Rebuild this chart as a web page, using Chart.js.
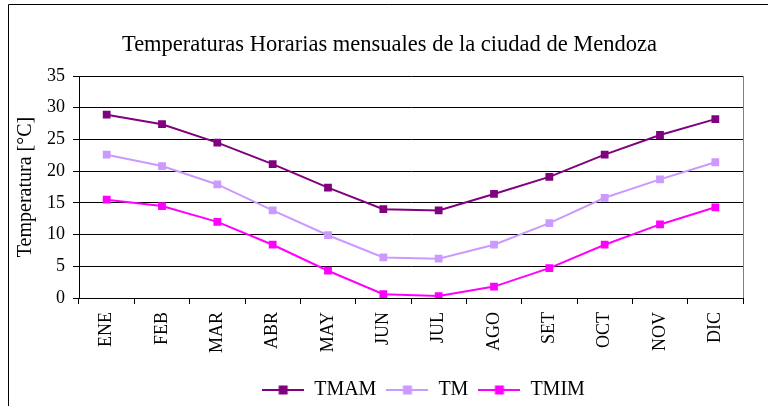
<!DOCTYPE html>
<html>
<head>
<meta charset="utf-8">
<script src="https://cdn.jsdelivr.net/npm/chart.js@4/dist/chart.umd.min.js"></script>
<style>
  html, body { margin: 0; padding: 0; background: #fff; overflow: hidden; }
  #wrap { width: 768px; height: 406px; position: relative; }
</style>
</head>
<body>
<div id="wrap"><canvas id="chart" width="768" height="406"></canvas></div>
<script>
// months (Spanish abbreviations)
const meses = ['ENE', 'FEB', 'MAR', 'ABR', 'MAY', 'JUN', 'JUL', 'AGO', 'SET', 'OCT', 'NOV', 'DIC'];

// temperatures [°C]
const tmam = [28.9, 27.4, 24.5, 21.1, 17.4, 14.0, 13.8, 16.4, 19.1, 22.6, 25.7, 28.2];
const tm   = [22.6, 20.8, 17.9, 13.8, 9.9, 6.4, 6.2, 8.4, 11.8, 15.8, 18.7, 21.4];
const tmim = [15.5, 14.5, 12.0, 8.4, 4.3, 0.6, 0.3, 1.8, 4.7, 8.4, 11.6, 14.3];

const serieNames = ['TMAM', 'TM', 'TMIM'];
const serieColors = ['#800080', '#CC99FF', '#FF00FF'];

const FONT = '"Liberation Serif", "Times New Roman", serif';

// little "line with square" icon for the legend
function legendIcon(color) {
    let c = document.createElement('canvas');
    c.width = 42;
    c.height = 12;
    let ctx = c.getContext('2d');
    ctx.strokeStyle = color;
    ctx.lineWidth = 2;
    ctx.beginPath();
    ctx.moveTo(0, 6);
    ctx.lineTo(42, 6);
    ctx.stroke();
    ctx.fillStyle = color;
    ctx.fillRect(16.5, 1.5, 9, 9);
    return c;
}
const icons = serieColors.map(legendIcon);

// outer frame, right border of the plot area, nudge title/legend like the original
const frame = {
    id: 'frame',
    afterLayout(chart) {
        if (chart.titleBlock) {
            chart.titleBlock.left += 11;
            chart.titleBlock.right += 11;
        }
        if (chart.legend) {
            chart.legend.left += 45;
            chart.legend.right += 45;
            chart.legend.top += 6;
            chart.legend.bottom += 6;
        }
    },
    beforeDraw(chart) {
        let ctx = chart.ctx;
        ctx.save();
        ctx.strokeStyle = '#000';
        ctx.lineWidth = 1;
        ctx.beginPath();
        ctx.moveTo(8.5, 406);
        ctx.lineTo(8.5, 4.5);
        ctx.lineTo(768, 4.5);
        ctx.stroke();
        ctx.restore();
    },
    beforeDatasetsDraw(chart) {
        let a = chart.chartArea;
        let ctx = chart.ctx;
        ctx.save();
        ctx.strokeStyle = '#808080';
        ctx.lineWidth = 1;
        ctx.beginPath();
        ctx.moveTo(Math.round(a.right) + 0.5, a.top);
        ctx.lineTo(Math.round(a.right) + 0.5, a.bottom);
        ctx.stroke();
        ctx.restore();
    }
};

const series = [tmam, tm, tmim];
let datasets = [];
for (let i = 0; i < series.length; i++) {
    datasets.push({
        label: serieNames[i],
        data: series[i],
        borderColor: serieColors[i],
        backgroundColor: serieColors[i],
        borderWidth: 2,
        pointStyle: 'rect',
        pointRadius: 5.5,
        pointBorderWidth: 0,
        tension: 0
    });
}

new Chart(document.getElementById('chart'), {
    type: 'line',
    data: {
        labels: meses,
        datasets: datasets
    },
    options: {
        responsive: false,
        animation: false,
        layout: { padding: { left: 14, right: 25, top: 0, bottom: 2 } },
        plugins: {
            title: {
                display: true,
                text: 'Temperaturas Horarias mensuales de la ciudad de Mendoza',
                color: '#000',
                font: { family: FONT, size: 22.5, weight: 'normal' },
                padding: { top: 32, bottom: 17 }
            },
            legend: {
                position: 'bottom',
                labels: {
                    color: '#000',
                    font: { family: FONT, size: 20 },
                    usePointStyle: true,
                    pointStyleWidth: 42,
                    boxHeight: 12,
                    padding: 10,
                    generateLabels(chart) {
                        let items = Chart.defaults.plugins.legend.labels.generateLabels(chart);
                        items.forEach((it, i) => { it.pointStyle = icons[i]; });
                        return items;
                    }
                }
            },
            tooltip: { enabled: false }
        },
        scales: {
            x: {
                offset: true,
                grid: {
                    offset: true,
                    drawOnChartArea: false,
                    drawTicks: true,
                    tickLength: 6,
                    color: '#000'
                },
                border: { color: '#000', width: 1 },
                ticks: {
                    color: '#000',
                    font: { family: FONT, size: 18 },
                    maxRotation: 90,
                    minRotation: 90,
                    padding: 8
                },
                afterFit(scale) { scale.height = 66; }
            },
            y: {
                min: 0,
                max: 35,
                ticks: {
                    stepSize: 5,
                    color: '#000',
                    font: { family: FONT, size: 18 },
                    padding: 8
                },
                grid: {
                    color: '#000',
                    tickLength: 6
                },
                border: { color: '#000', width: 1 },
                title: {
                    display: true,
                    text: 'Temperatura [°C]',
                    color: '#000',
                    font: { family: FONT, size: 20 },
                    padding: 0
                },
                afterFit(scale) { scale.width = 65; }
            }
        }
    },
    plugins: [frame]
});
</script>
</body>
</html>
